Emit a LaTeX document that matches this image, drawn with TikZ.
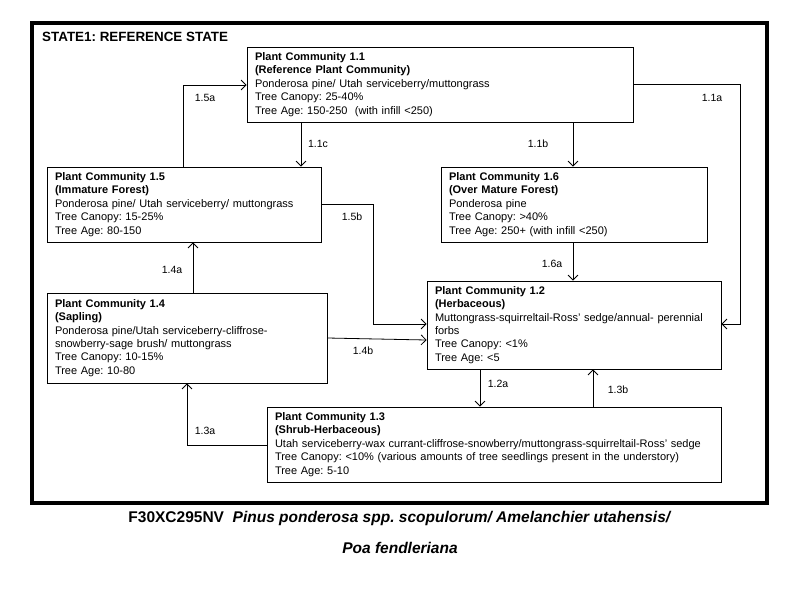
\documentclass[tikz,border=0pt]{standalone}
\usepackage{fontspec}
\setmainfont{Liberation Sans}
\usetikzlibrary{arrows.meta,calc}
\frenchspacing
\begin{document}
\begin{tikzpicture}[x=1pt,y=-1pt,
 box/.style={draw, line width=0.8pt, align=left, inner xsep=8pt, inner ysep=0pt, font=\fontsize{11}{13.4}\selectfont},
 lab/.style={font=\fontsize{10.5}{12}\selectfont, inner sep=0pt},
 arr/.style={line width=0.8pt, -{Straight Barb[length=5pt,width=10pt]}},
 ln/.style={line width=0.8pt}]
\useasboundingbox (0,0) rectangle (800,600);
\fill[white] (0,0) rectangle (800,600);
\draw[line width=4pt] (32,23) rectangle (767,503);
\node[anchor=west, font=\bfseries\fontsize{13.4}{15}\selectfont, inner sep=0pt] (title) at (42,37) {STATE1: REFERENCE STATE};

\node[box, minimum height=75, text width=370] (n11) at (440,84.5) {\textbf{Plant Community 1.1}\\ \textbf{(Reference Plant Community)}\\ Ponderosa pine/ Utah serviceberry/muttongrass\\ Tree Canopy: 25-40\%\\ Tree Age: 150-250 \ (with infill <250)};
\node[box, minimum height=75, text width=258] (n15) at (184,204.5) {\textbf{Plant Community 1.5}\\ \textbf{(Immature Forest)}\\ Ponderosa pine/ Utah serviceberry/ muttongrass\\ Tree Canopy: 15-25\%\\ Tree Age: 80-150};
\node[box, minimum height=75, text width=250] (n16) at (574,204.5) {\textbf{Plant Community 1.6}\\ \textbf{(Over Mature Forest)}\\ Ponderosa pine\\ Tree Canopy: >40\%\\ Tree Age: 250+ (with infill <250)};
\node[box, minimum height=90, text width=264] (n14) at (187,338) {\textbf{Plant Community 1.4}\\ \textbf{(Sapling)}\\ Ponderosa pine/Utah serviceberry-cliffrose-\\ snowberry-sage brush/ muttongrass\\ Tree Canopy: 10-15\%\\ Tree Age: 10-80};
\node[box, minimum height=88, text width=278] (n12) at (574,325) {\textbf{Plant Community 1.2}\\ \textbf{(Herbaceous)}\\ Muttongrass-squirreltail-Ross' sedge/annual- perennial\\ forbs\\ Tree Canopy: <1\%\\ Tree Age: <5};
\node[box, minimum height=75, text width=438] (n13) at (494,444.5) {\textbf{Plant Community 1.3}\\ \textbf{(Shrub-Herbaceous)}\\ Utah serviceberry-wax currant-cliffrose-snowberry/muttongrass-squirreltail-Ross' sedge\\ Tree Canopy: <10\% (various amounts of tree seedlings present in the understory)\\ Tree Age: 5-10};

% 1.5a
\coordinate (p15a) at (183,85);
\draw[arr] (p15a |- n15.north) -- (p15a) -- (p15a -| n11.west);
\node[lab] (l15a) at (205,98) {1.5a};
% 1.1c
\coordinate (p11c) at (301,0);
\draw[arr] (p11c |- n11.south) -- (p11c |- n15.north);
\node[lab] (l11c) at (318,144) {1.1c};
% 1.1b
\coordinate (p11b) at (573,0);
\draw[arr] (p11b |- n11.south) -- (p11b |- n16.north);
\node[lab] (l11b) at (538,144) {1.1b};
% 1.1a
\coordinate (p11a1) at (740,84);
\coordinate (p11a2) at (740,324);
\draw[arr] (p11a1 -| n11.east) -- (p11a1) -- (p11a2) -- (p11a2 -| n12.east);
\node[lab] (l11a) at (712,98) {1.1a};
% 1.5b
\coordinate (p15b1) at (373,204);
\coordinate (p15b2) at (373,324);
\draw[arr] (p15b1 -| n15.east) -- (p15b1) -- (p15b2) -- (p15b2 -| n12.west);
\node[lab] (l15b) at (352,217) {1.5b};
% 1.4b
\coordinate (p14b1) at (0,338);
\coordinate (p14b2) at (0,340);
\draw[arr] (p14b1 -| n14.east) -- (p14b2 -| n12.west);
\node[lab] (l14b) at (363,351) {1.4b};
% 1.6a
\coordinate (p16a) at (573,0);
\draw[arr] (p16a |- n16.south) -- (p16a |- n12.north);
\node[lab] (l16a) at (552,264) {1.6a};
% 1.4a
\coordinate (p14a) at (193,0);
\draw[arr] (p14a |- n14.north) -- (p14a |- n15.south);
\node[lab] (l14a) at (172,270) {1.4a};
% 1.3a
\coordinate (p13a) at (187,445);
\draw[arr] (p13a -| n13.west) -- (p13a) -- (p13a |- n14.south);
\node[lab] (l13a) at (205,431) {1.3a};
% 1.2a
\coordinate (p12a) at (480,0);
\draw[arr] (p12a |- n12.south) -- (p12a |- n13.north);
\node[lab] (l12a) at (498,384) {1.2a};
% 1.3b
\coordinate (p13b) at (593,0);
\draw[arr] (p13b |- n13.north) -- (p13b |- n12.south);
\node[lab] (l13b) at (618,390) {1.3b};

\node[font=\bfseries\fontsize{15.5}{18}\selectfont, inner sep=0pt] (cap1) at (400,518) {F30XC295NV \ \textit{Pinus ponderosa spp. scopulorum/ Amelanchier utahensis/}};
\node[font=\bfseries\fontsize{15.5}{18}\selectfont, inner sep=0pt] (cap2) at (400,548) {\textit{Poa fendleriana}};
\end{tikzpicture}
\end{document}
